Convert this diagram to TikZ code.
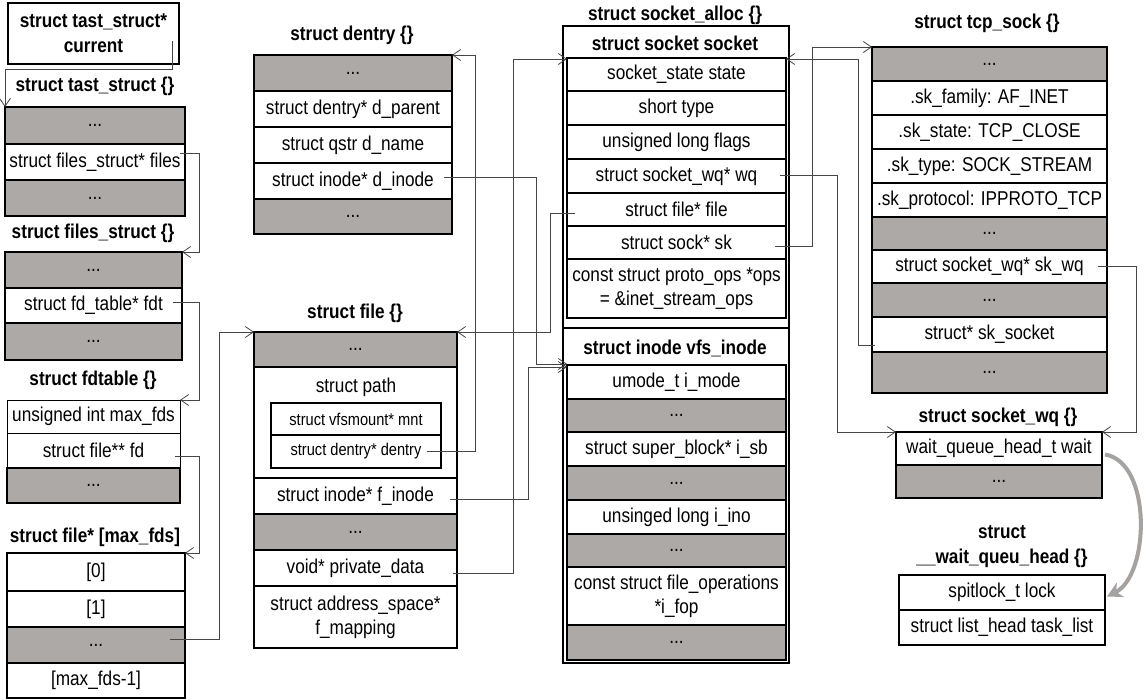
\documentclass[tikz,border=0pt]{standalone}
\usepackage{fontspec}
\setmainfont{Liberation Sans}[FakeStretch=0.86]
\usetikzlibrary{arrows.meta}
\definecolor{cFill}{RGB}{173,169,167}
\definecolor{cArrow}{RGB}{165,162,160}
\definecolor{cLine}{RGB}{70,70,70}
\newcommand\rowfont{\fontsize{20}{24}\selectfont}
\newcommand\smallrowfont{\fontsize{17}{20}\selectfont}
\newcommand\titlefont{\fontsize{20}{25}\selectfont\bfseries}
% one field of a struct: [style]{name}{x1}{y1}{x2}{y2}{text}
\newcommand\structrow[7][]{%
  \pgfmathsetmacro\rowW{#5-#3}\pgfmathsetmacro\rowH{#6-#4}%
  \node[field,#1,minimum width=\rowW pt,minimum height=\rowH pt,anchor=north west] (#2) at (#3,#4) {#7};}
\begin{document}
\begin{tikzpicture}[x=1pt,y=-1pt,
  field/.style={draw,line width=1.5pt,inner sep=0pt,outer sep=0pt,font=\rowfont,align=center},
  blank/.style={fill=cFill},
  thin/.style={line width=0.8pt},
  ttl/.style={inner sep=0pt,font=\titlefont,align=center},
  conn/.style={draw=cLine,line width=0.9pt,-{Straight Barb[length=8pt,width=11pt,line width=0.8pt]}},
  bigarrow/.style={draw=cArrow,line width=4pt,-{Stealth[length=15pt,width=16pt]}}]
\useasboundingbox (0,0) rectangle (1146,699);

% ---- task pointer and task_struct
\structrow[font=\titlefont]{cur}{8}{3}{179}{64}{struct tast\_struct*\\current}
\node[ttl] (tsT) at (95,86) {struct tast\_struct \{\}};
\structrow[blank]{ts1}{5}{107}{185}{144}{...}
\structrow{ts2}{5}{144}{185}{180}{struct files\_struct* files}
\structrow[blank]{ts3}{5}{180}{185}{216}{...}

% ---- files_struct
\node[ttl] (fsT) at (93,233) {struct files\_struct \{\}};
\structrow[blank]{fs1}{5}{252}{182}{288}{...}
\structrow{fs2}{5}{288}{182}{323}{struct fd\_table* fdt}
\structrow[blank]{fs3}{5}{323}{182}{360}{...}

% ---- fdtable
\node[ttl] (ftT) at (93,380) {struct fdtable \{\}};
\structrow[thin]{ft1}{7}{400}{180}{433}{unsigned int max\_fds}
\structrow[thin]{ft2}{7}{433}{180}{468}{struct file** fd}
\structrow[blank]{ft3}{7}{468}{180}{503}{...}

% ---- fd array
\node[ttl] (arT) at (95,537) {struct file* [max\_fds]};
\structrow{ar1}{7}{553}{185}{591}{[0]}
\structrow{ar2}{7}{591}{185}{627}{[1]}
\structrow[blank]{ar3}{7}{627}{185}{663}{...}
\structrow{ar4}{7}{663}{185}{698}{[max\_fds-1]}

% ---- dentry
\node[ttl] (deT) at (352,35) {struct dentry \{\}};
\structrow[blank]{de1}{254}{55}{452}{91}{...}
\structrow{de2}{254}{91}{452}{127}{struct dentry* d\_parent}
\structrow{de3}{254}{127}{452}{163}{struct qstr d\_name}
\structrow{de4}{254}{163}{452}{199}{struct inode* d\_inode}
\structrow[blank]{de5}{254}{199}{452}{234}{...}

% ---- file
\node[ttl] (fiT) at (355,313) {struct file \{\}};
\structrow[blank]{fi1}{254}{332}{457}{367}{...}
\structrow{fi2}{254}{367}{457}{478}{}
\node[inner sep=0pt,font=\rowfont] (pathT) at (356,387) {struct path};
\structrow[font=\smallrowfont]{pm}{271}{403}{441}{435}{struct vfsmount* mnt}
\structrow[font=\smallrowfont]{pd}{271}{435}{441}{468}{struct dentry* dentry}
\structrow{fi3}{254}{478}{457}{514}{struct inode* f\_inode}
\structrow[blank]{fi4}{254}{514}{457}{550}{...}
\structrow{fi5}{254}{550}{457}{586}{void* private\_data}
\structrow{fi6}{254}{586}{457}{648}{struct address\_space*\\f\_mapping}

% ---- socket_alloc: socket + inode
\node[ttl] (saT) at (675,15) {struct socket\_alloc \{\}};
\structrow{sa1}{563}{26}{789}{328}{}
\structrow{sa2}{563}{328}{789}{663}{}
\node[ttl] (soT) at (675,43) {struct socket socket};
\structrow{so1}{567}{58}{786}{91}{socket\_state state}
\structrow{so2}{567}{91}{786}{125}{short type}
\structrow{so3}{567}{125}{786}{159}{unsigned long flags}
\structrow{so4}{567}{159}{786}{193}{struct socket\_wq* wq}
\structrow{so5}{567}{193}{786}{226}{struct file* file}
\structrow{so6}{567}{226}{786}{259}{struct sock* sk}
\structrow{so7}{567}{259}{786}{318}{const struct proto\_ops *ops\\= \&inet\_stream\_ops}
\node[ttl] (inT) at (675,348) {struct inode vfs\_inode};
\structrow{in1}{567}{365}{786}{399}{umode\_t i\_mode}
\structrow[blank]{in2}{567}{399}{786}{432}{...}
\structrow{in3}{567}{432}{786}{466}{struct super\_block* i\_sb}
\structrow[blank]{in4}{567}{466}{786}{500}{...}
\structrow{in5}{567}{500}{786}{534}{unsinged long i\_ino}
\structrow[blank]{in6}{567}{534}{786}{567}{...}
\structrow{in7}{567}{567}{786}{625}{const struct file\_operations\\*i\_fop}
\structrow[blank]{in8}{567}{625}{786}{660}{...}

% ---- tcp_sock
\node[ttl] (tcT) at (987,23) {struct tcp\_sock \{\}};
\structrow[blank]{tc1}{872}{47}{1107}{81}{...}
\structrow{tc2}{872}{81}{1107}{115}{.sk\_family: AF\_INET}
\structrow{tc3}{872}{115}{1107}{149}{.sk\_state: TCP\_CLOSE}
\structrow{tc4}{872}{149}{1107}{183}{.sk\_type: SOCK\_STREAM}
\structrow{tc5}{872}{183}{1107}{217}{.sk\_protocol: IPPROTO\_TCP}
\structrow[blank]{tc6}{872}{217}{1107}{250}{...}
\structrow{tc7}{872}{250}{1107}{283}{struct socket\_wq* sk\_wq}
\structrow[blank]{tc8}{872}{283}{1107}{317}{...}
\structrow{tc9}{872}{317}{1107}{352}{struct* sk\_socket}
\structrow[blank]{tc10}{872}{352}{1107}{393}{...}

% ---- socket_wq and its wait queue head
\node[ttl] (wqT) at (998,417) {struct socket\_wq \{\}};
\structrow{wq1}{896}{432}{1102}{465}{wait\_queue\_head\_t wait}
\structrow[blank]{wq2}{896}{465}{1102}{498}{...}
\node[ttl] (whT) at (1002,546.5) {struct\\\_\_wait\_queu\_head \{\}};
\structrow{wh1}{899}{575}{1105}{610}{spitlock\_t lock}
\structrow{wh2}{899}{610}{1105}{645}{struct list\_head task\_list}

% ---- pointers
\draw[conn] ([xshift=-7pt,yshift=-7.5pt]cur.east) |- ([yshift=38pt]ts1.north west) -- (ts1.north west);
\draw[conn] ([xshift=-5pt,yshift=9pt]ts2.east) -| ([xshift=17pt]fs1.north east) -- (fs1.north east);
\draw[conn] ([xshift=-9pt,yshift=3.5pt]fs2.east) -| ([xshift=19pt]ft1.north east) -- (ft1.north east);
\draw[conn] ([xshift=-5pt,yshift=-5.5pt]ft2.east) -| ([xshift=14pt]ar1.north east) -- (ar1.north east);
\draw[conn] ([xshift=-15pt,yshift=6pt]ar3.east) -| ([xshift=-35pt]fi1.north west) -- (fi1.north west);
\draw[conn] ([xshift=-14pt]pd.east) -| ([xshift=23pt]de1.north east) -- (de1.north east);
\draw[conn] ([xshift=-8pt,yshift=4pt]de4.east) -| ([xshift=-31pt,yshift=1pt]in1.north west) -- ([yshift=1pt]in1.north west);
\draw[conn] ([xshift=-7pt,yshift=-3pt]fi3.east) -| ([xshift=-39pt,yshift=-2pt]in1.north west) -- ([yshift=-2pt]in1.north west);
\draw[conn] ([xshift=-4pt,yshift=-5pt]fi5.east) -| ([xshift=-54pt,yshift=-1pt]so1.north west) -- ([yshift=-1pt]so1.north west);
\draw[conn] ([xshift=8pt,yshift=-3.5pt]so5.west) -| ([xshift=93pt]fi1.north east) -- (fi1.north east);
\draw[conn] ([xshift=-6pt,yshift=1pt]so4.east) -| ([xshift=-59pt]wq1.north west) -- (wq1.north west);
\draw[conn] ([xshift=-11pt,yshift=-3.5pt]so6.east) -| ([xshift=-60pt]tc1.north west) -- (tc1.north west);
\draw[conn] ([xshift=3pt,yshift=-10.5pt]tc9.west) -| ([xshift=72pt,yshift=-1pt]so1.north east) -- ([yshift=-1pt]so1.north east);
\draw[conn] ([xshift=-9pt]tc7.east) -| ([xshift=34pt]wq1.north east) -- (wq1.north east);

% ---- wait queue head is embedded in socket_wq
\draw[bigarrow] ([xshift=3pt,yshift=-6pt]wq1.east) .. controls (1152,462) and (1150,575) .. ([xshift=2pt,yshift=-4pt]wh1.east);
\end{tikzpicture}
\end{document}
